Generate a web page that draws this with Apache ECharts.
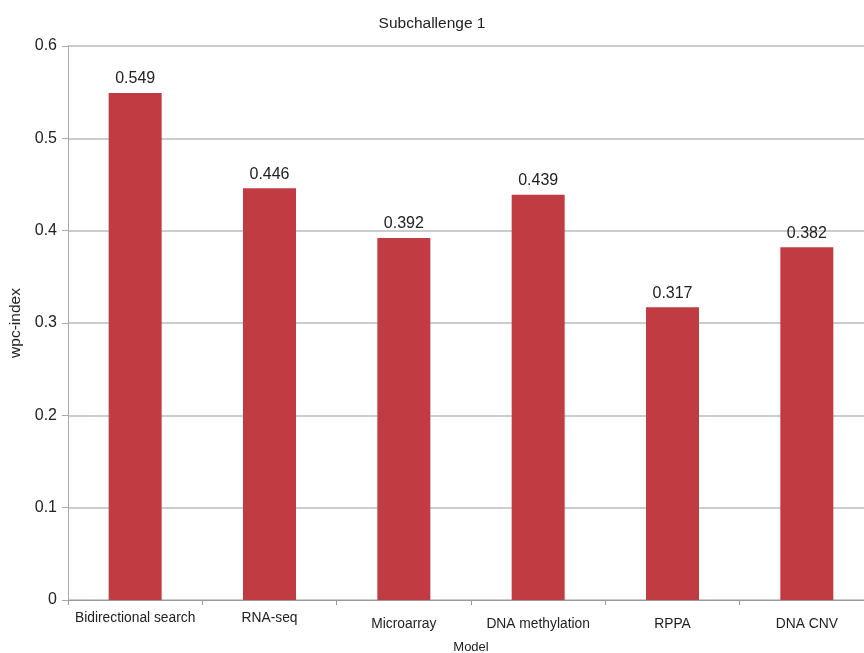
<!DOCTYPE html>
<html>
<head>
<meta charset="utf-8">
<script src="https://cdn.jsdelivr.net/npm/echarts@6/dist/echarts.min.js"></script>
<style>
html,body{margin:0;padding:0;background:#fff;}
#chart{width:864px;height:653px;}
</style>
</head>
<body>
<div id="chart"></div>
<script>
var categories = ['Bidirectional search', 'RNA-seq', 'Microarray', 'DNA methylation', 'RPPA', 'DNA CNV'];
var lowered = [false, false, true, true, true, true];
var values = [0.549, 0.446, 0.392, 0.439, 0.317, 0.382];
var yTicks = [0, 0.1, 0.2, 0.3, 0.4, 0.5, 0.6];

var font = '"Liberation Sans", Arial, Helvetica, sans-serif';
var chart = echarts.init(document.getElementById('chart'), null, {renderer: 'canvas'});
var catData = categories.map(function (c, i) {
  return {value: c, textStyle: {padding: lowered[i] ? [6, 0, 0, 0] : [0, 0, 0, 0]}};
});
chart.setOption({
  animation: false,
  backgroundColor: '#ffffff',
  title: {
    text: 'Subchallenge 1',
    left: 'center',
    top: 11,
    textStyle: {fontFamily: font, fontSize: 15.5, fontWeight: 'normal', color: '#222'}
  },
  grid: {left: 68, top: 46, width: 806, height: 554, containLabel: false, outerBoundsMode: 'none'},
  xAxis: {
    type: 'category',
    data: catData,
    name: 'Model',
    nameLocation: 'middle',
    nameGap: 41,
    nameTextStyle: {fontFamily: font, fontSize: 13, color: '#222'},
    axisLine: {lineStyle: {color: '#999', width: 1}},
    axisTick: {show: true, length: 5, alignWithLabel: false, lineStyle: {color: '#999'}},
    axisLabel: {fontFamily: font, fontSize: 13.8, color: '#222', margin: 11, interval: 0}
  },
  yAxis: {
    type: 'value',
    min: yTicks[0],
    max: yTicks[yTicks.length - 1],
    interval: 0.1,
    name: 'wpc-index',
    nameLocation: 'middle',
    nameGap: 44,
    nameTextStyle: {fontFamily: font, fontSize: 15.5, color: '#222'},
    axisLine: {show: true, lineStyle: {color: '#aaa', width: 1}},
    axisTick: {show: true, length: 6, lineStyle: {color: '#aaa'}},
    axisLabel: {fontFamily: font, fontSize: 16, color: '#222', margin: 11,
      formatter: function (v) { return String(Math.round(v * 10) / 10); }},
    splitLine: {show: true, lineStyle: {color: '#bbb', width: 1.5}}
  },
  series: [{
    type: 'bar',
    data: values,
    barWidth: 53,
    itemStyle: {color: '#c13c42'},
    label: {
      show: true,
      position: 'top',
      distance: 6,
      fontFamily: font,
      fontSize: 16,
      color: '#222',
      formatter: function (p) { return p.value.toFixed(3); }
    }
  }]
});
</script>
</body>
</html>
